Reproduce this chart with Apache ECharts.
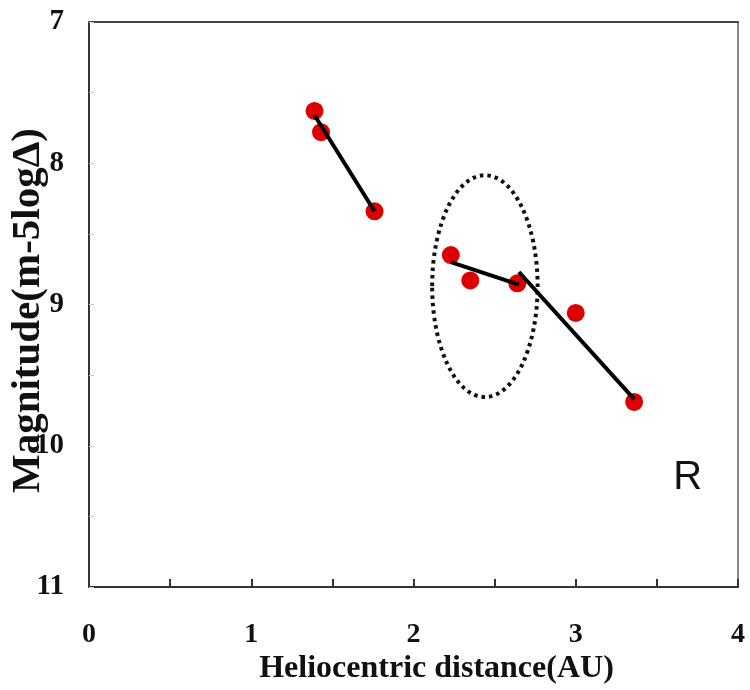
<!DOCTYPE html>
<html>
<head>
<meta charset="utf-8">
<script src="https://cdn.jsdelivr.net/npm/echarts@6/dist/echarts.min.js"></script>
<style>html,body{margin:0;padding:0;background:#fff;}#main{width:750px;height:690px;}</style>
</head>
<body>
<div id="main"></div>
<script>
// Observed points (heliocentric distance AU, reduced magnitude)
const distAU = [1.39, 1.43, 1.76, 2.23, 2.35, 2.64, 3.00, 3.36];
const magnitude = [7.63, 7.78, 8.34, 8.65, 8.83, 8.85, 9.06, 9.69];
// Fitted line segments
const fit1X = [1.39, 1.76], fit1Y = [7.66, 8.34];
const fit2X = [2.23, 2.65], fit2Y = [8.70, 8.86];
const fit3X = [2.65, 3.36], fit3Y = [8.77, 9.67];
// Dotted ellipse: center x, center y, radius x, radius y (data units)
const ellipseData = [2.44, 8.87, 0.325, 0.785];
// Annotation
const labelText = 'R', labelPos = [3.69, 10.23];
const xTickLabels = ['0', '1', '2', '3', '4'];
const yTickLabels = ['7', '8', '9', '10', '11'];

const serif = '"Liberation Serif", "Times New Roman", serif';
const chart = echarts.init(document.getElementById('main'), null, {renderer: 'canvas'});

function pairs(xs, ys) { return xs.map((x, i) => [x, ys[i]]); }
const lineStyle = {color: '#000', width: 4, opacity: 1};

chart.setOption({
  animation: false,
  backgroundColor: '#fff',
  grid: {left: 89, top: 22, right: 12, bottom: 103, containLabel: false, outerBoundsMode: 'none'},
  xAxis: [{
    type: 'value', min: 0, max: 4, interval: 0.5,
    name: 'Heliocentric distance(AU)', nameLocation: 'middle', nameGap: 66, nameMoveOverlap: false,
    nameTextStyle: {fontFamily: serif, fontWeight: 'bold', fontSize: 32, color: '#111', padding: [0, 0, 0, 46]},
    axisLine: {show: true, onZero: false, lineStyle: {color: '#333', width: 2}},
    axisTick: {show: true, inside: true, length: 8, lineStyle: {color: '#333', width: 2}},
    axisLabel: {
      margin: 34, fontFamily: serif, fontWeight: 'bold', fontSize: 28, color: '#111',
      formatter: v => Number.isInteger(v) ? xTickLabels[v] : ''
    },
    splitLine: {show: false}
  }, {
    type: 'value', min: 0, max: 4, position: 'top',
    axisLine: {show: true, onZero: false, lineStyle: {color: '#444', width: 2}},
    axisTick: {show: false}, axisLabel: {show: false}, splitLine: {show: false}
  }],
  yAxis: [{
    type: 'value', min: 7, max: 11, interval: 0.5, inverse: true,
    name: 'Magnitude(m-5logΔ)', nameLocation: 'middle', nameGap: 40, nameRotate: 90, nameMoveOverlap: false,
    nameTextStyle: {fontFamily: serif, fontWeight: 'bold', fontSize: 41, color: '#111', padding: [0, 12, 0, 0]},
    axisLine: {show: true, onZero: false, lineStyle: {color: '#333', width: 2}},
    axisTick: {show: true, inside: true, length: 5, lineStyle: {color: '#ccc', width: 1}},
    axisLabel: {
      margin: 25, fontFamily: serif, fontWeight: 'bold', fontSize: 29, color: '#111',
      formatter: v => Number.isInteger(v) ? yTickLabels[v - 7] : ''
    },
    splitLine: {show: false}
  }, {
    type: 'value', min: 7, max: 11, inverse: true, position: 'right',
    axisLine: {show: true, onZero: false, lineStyle: {color: '#888', width: 2}},
    axisTick: {show: false}, axisLabel: {show: false}, splitLine: {show: false}
  }],
  series: [
    {type: 'line', data: pairs(fit1X, fit1Y), symbol: 'none', lineStyle, z: 3},
    {type: 'line', data: pairs(fit2X, fit2Y), symbol: 'none', lineStyle, z: 3},
    {type: 'line', data: pairs(fit3X, fit3Y), symbol: 'none', lineStyle, z: 3},
    {
      type: 'custom', z: 2,
      data: [ellipseData],
      renderItem: function (params, api) {
        const c = api.coord([api.value(0), api.value(1)]);
        const s = api.size([api.value(2), api.value(3)]);
        return {
          type: 'ellipse',
          shape: {cx: c[0], cy: c[1], rx: Math.abs(s[0]), ry: Math.abs(s[1])},
          style: {fill: 'none', stroke: '#111', lineWidth: 4, lineDash: [3.5, 4]}
        };
      }
    },
    {
      type: 'scatter', data: pairs(distAU, magnitude), symbol: 'circle', symbolSize: 18,
      itemStyle: {color: '#dd0000', opacity: 1}, z: 2
    },
    {
      type: 'scatter', data: [labelPos], symbolSize: 0, silent: true,
      itemStyle: {opacity: 1},
      label: {show: true, position: 'inside', formatter: labelText, opacity: 1,
        fontFamily: '"Liberation Sans", Arial, sans-serif', fontSize: 40, color: '#111'}
    }
  ]
});
</script>
</body>
</html>
